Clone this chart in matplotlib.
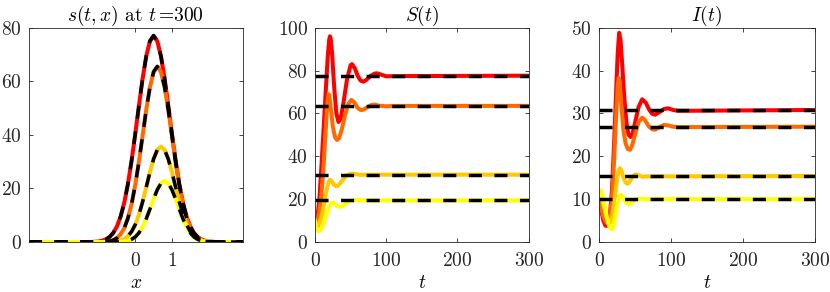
import numpy as np
import matplotlib
matplotlib.use("Agg")
import matplotlib.pyplot as plt

plt.rcParams['font.family'] = 'serif'
plt.rcParams['font.serif'] = ['cmr10']
plt.rcParams['mathtext.fontset'] = 'cm'
plt.rcParams['axes.formatter.use_mathtext'] = True
plt.rcParams['lines.scale_dashes'] = False

colors = ['#ff0000', '#ff6a00', '#ffc800', '#ffff00']

# ---- panel 1: s(300, x) profiles
x_pts = [-2.9, -1.2, -1.1, -1.0, -0.9, -0.8, -0.7, -0.6, -0.5, -0.4, -0.3, -0.2, -0.1,
         0.0, 0.1, 0.2, 0.3, 0.4, 0.5, 0.6, 0.7, 0.8, 0.9, 1.0, 1.1, 1.2, 1.3, 1.4,
         1.5, 1.6, 1.7, 1.8, 1.9, 2.0, 2.1, 2.2, 2.93]
s_red = [0, 0.0, 0.1, 0.2, 0.5, 1.0, 1.9, 3.4, 5.8, 9.5, 14.7, 21.7, 30.4,
         40.4, 50.9, 61.0, 69.4, 75.0, 77.0, 75.0, 69.4, 61.0, 50.9, 40.4, 30.4, 21.7,
         14.7, 9.5, 5.8, 3.4, 1.9, 1.0, 0.5, 0.2, 0.1, 0.0, 0]
s_orange = [0, 0, 0, 0, 0, 0.1, 0.3, 0.7, 1.5, 2.9, 5.2, 8.9, 14.2,
            21.3, 30.0, 39.7, 49.4, 57.8, 63.5, 65.5, 63.5, 57.8, 49.4, 39.7, 30.0, 21.3,
            14.2, 8.9, 5.2, 2.9, 1.5, 0.7, 0.3, 0.1, 0.0, 0.0, 0]
s_gold = [0, 0, 0, 0, 0, 0, 0, 0.1, 0.2, 0.5, 1.1, 2.2, 3.9,
          6.5, 10.2, 15.0, 20.5, 26.1, 31.0, 34.4, 35.6, 34.4, 31.0, 26.1, 20.5, 15.0,
          10.2, 6.5, 3.9, 2.2, 1.1, 0.5, 0.2, 0.1, 0.0, 0.0, 0]
s_yellow = [0, 0, 0, 0, 0, 0, 0, 0, 0, 0.1, 0.2, 0.5, 1.0,
            1.9, 3.4, 5.7, 8.7, 12.3, 16.1, 19.5, 21.9, 22.8, 21.9, 19.5, 16.1, 12.3,
            8.7, 5.7, 3.4, 1.9, 1.0, 0.5, 0.2, 0.1, 0.0, 0.0, 0]

# ---- panel 2: S(t)
tS_red = [0, 3, 6, 9, 12, 15, 18, 20, 21, 22, 24, 27, 30, 33, 36, 40, 45, 50, 52, 56,
          60, 64, 68, 72, 78, 84, 87, 92, 100, 110, 300]
S_red = [10, 11, 19, 35, 52, 70, 87, 94.5, 96, 95, 88, 72, 60, 56, 57.5, 65, 76, 82.5, 83, 81,
         77.5, 75.3, 74.8, 75.6, 77.5, 78.6, 78.7, 78.2, 77.3, 77.4, 77.6]
tS_orange = [0, 3, 6, 9, 12, 15, 17, 19, 20, 22, 25, 28, 31, 34, 38, 42, 47, 51, 55, 60,
             64, 68, 73, 79, 84, 90, 100, 110, 300]
S_orange = [10, 9.5, 14, 22, 35, 52, 63, 69, 68.5, 63, 54, 49, 47.6, 48.5, 53, 59, 64.5, 66.3, 65.2, 62.5,
            61.6, 61.7, 62.8, 63.9, 64.1, 63.6, 63.3, 63.5, 63.5]
tS_gold = [0, 2, 4, 7, 10, 13, 16, 19, 21, 23, 26, 29, 32, 35, 39, 43, 48, 53, 58, 64, 70, 300]
S_gold = [10, 7.5, 7.2, 9.5, 13, 18, 24, 28, 29, 28.6, 27, 26.1, 26.2, 27.2, 29, 30.6, 31.7, 31.9,
          31.6, 31.3, 31.4, 31.4]
tS_yellow = [0, 2, 5, 8, 11, 14, 17, 20, 23, 26, 29, 32, 35, 39, 44, 49, 55, 62, 70, 300]
S_yellow = [9.5, 6, 5.0, 5.7, 7.8, 10.8, 14, 16.7, 18.2, 18.3, 17.3, 16.6, 16.4, 16.8, 18.2, 19.2,
            19.6, 19.5, 19.4, 19.4]
S_eq = [77.6, 63.5, 31.4, 19.4]

# ---- panel 3: I(t)
tI_red = [0, 3, 6, 9, 12, 15, 18, 21, 24, 26, 28, 30, 32, 35, 38, 41, 44, 47, 51, 55, 60,
          65, 70, 74, 78, 83, 90, 96, 103, 110, 300]
I_red = [10, 7.5, 5, 3.8, 3.8, 6, 12, 23, 36, 44, 48.8, 47, 42, 34, 28, 25, 24.5, 25.5, 28.5, 31.5,
         33.3, 32.5, 30.8, 29.9, 29.7, 30.2, 31, 31.2, 30.8, 30.6, 30.8]
tI_orange = [0, 3, 6, 9, 12, 15, 18, 21, 24, 26, 27.5, 29, 31, 34, 37, 40, 43, 46, 50, 55, 60,
             64, 69, 74, 78, 84, 90, 96, 103, 110, 300]
I_orange = [10, 8, 6, 4.8, 4.4, 5.5, 10, 19, 30, 36.5, 38.3, 36.5, 32, 26, 23, 21.7, 21.5, 22.5, 25,
            28, 29, 28.4, 27, 26.3, 26.2, 26.8, 27.3, 27.2, 26.9, 26.8, 26.9]
tI_gold = [0, 2, 5, 8, 11, 14, 16, 19, 22, 25, 27, 29, 31, 34, 37, 40, 43, 47, 51, 55, 60, 66, 300]
I_gold = [10.5, 11, 9.5, 7.5, 5.5, 4.6, 4.6, 6.5, 10.5, 14.5, 16.5, 17.2, 16.7, 15, 13.9, 13.6, 14.2,
          15.3, 15.8, 15.6, 15.2, 15.3, 15.4]
tI_yellow = [0, 2, 4, 7, 10, 13, 16, 18, 20, 23, 26, 29, 31, 34, 38, 42, 46, 51, 57, 65, 300]
I_yellow = [10.5, 12, 11.5, 9, 6.5, 4.2, 3.1, 3.0, 3.6, 6.3, 9.2, 10.8, 11.0, 10.2, 9.1, 8.8, 9.3, 9.9,
            10.1, 10.0, 10.0]
I_eq = [30.8, 26.9, 15.4, 10.0]

LW = 2.9
DLW = 2.5
DASH = (9.4, 9.0)
fs = 14

fig = plt.figure(figsize=(8.3, 2.92), dpi=100)
ax1 = fig.add_axes([0.0349, 0.1712, 0.2575, 0.734])
ax2 = fig.add_axes([0.3795, 0.1712, 0.2575, 0.734])
ax3 = fig.add_axes([0.7217, 0.1712, 0.2600, 0.734])

# panel 1
profiles = [s_red, s_orange, s_gold, s_yellow]
for c, s in zip(colors, profiles):
    ax1.plot(x_pts, s, color=c, lw=LW, solid_capstyle='butt')
for s in profiles:
    ax1.plot(x_pts, s, color='k', lw=DLW, dashes=DASH, dash_capstyle='butt')
ax1.set_xlim(-2.9, 2.93)
ax1.set_ylim(0, 80)
ax1.set_xticks([0, 1])
ax1.set_yticks([0, 20, 40, 60, 80])
ax1.set_title(r'$s(t,x)$ at $t\,$=300', fontsize=fs, pad=5)
ax1.set_xlabel(r'$x$', fontsize=fs, labelpad=3)

# panel 2
for c, t, v in zip(colors, [tS_red, tS_orange, tS_gold, tS_yellow],
                   [S_red, S_orange, S_gold, S_yellow]):
    ax2.plot(t, v, color=c, lw=LW)
for e in S_eq:
    ax2.plot([0, 300], [e, e], color='k', lw=DLW, dashes=DASH, dash_capstyle='butt')
ax2.set_xlim(0, 300)
ax2.set_ylim(0, 100)
ax2.set_xticks([0, 100, 200, 300])
ax2.set_yticks([0, 20, 40, 60, 80, 100])
ax2.set_title(r'$S(t)$', fontsize=fs, pad=5)
ax2.set_xlabel(r'$t$', fontsize=fs, labelpad=3)

# panel 3
for c, t, v in zip(colors, [tI_red, tI_orange, tI_gold, tI_yellow],
                   [I_red, I_orange, I_gold, I_yellow]):
    ax3.plot(t, v, color=c, lw=LW)
for e in I_eq:
    ax3.plot([0, 300], [e, e], color='k', lw=DLW, dashes=DASH, dash_capstyle='butt')
ax3.set_xlim(0, 300)
ax3.set_ylim(0, 50)
ax3.set_xticks([0, 100, 200, 300])
ax3.set_yticks([0, 10, 20, 30, 40, 50])
ax3.set_title(r'$I(t)$', fontsize=fs, pad=5)
ax3.set_xlabel(r'$t$', fontsize=fs, labelpad=3)

for ax in (ax1, ax2, ax3):
    ax.tick_params(direction='in', length=3, width=0.6, top=True, right=True,
                   labelsize=fs, colors='#262626')
    ax.tick_params(axis='x', pad=7)
    ax.tick_params(axis='y', pad=5)
    for sp in ax.spines.values():
        sp.set_linewidth(0.6)
        sp.set_color('#262626')

fig.savefig('out.png', dpi=100)
